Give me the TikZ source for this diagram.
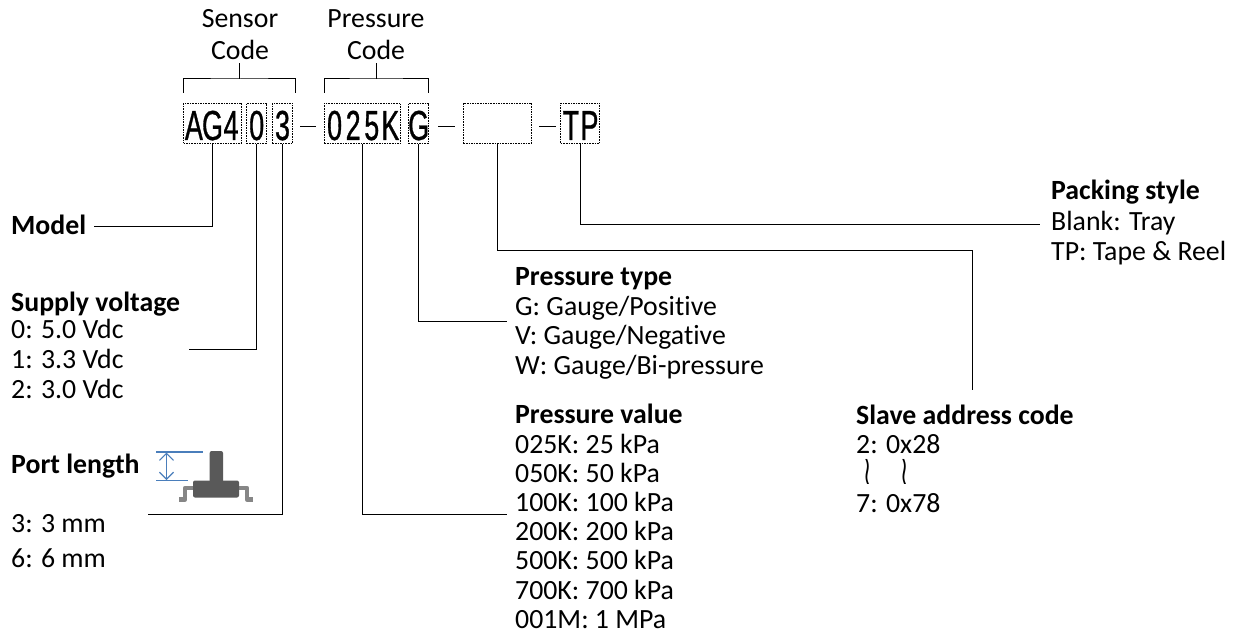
\documentclass[tikz,border=0pt]{standalone}
\usepackage{fontspec}
\setmainfont[Ligatures=NoCommon]{Carlito}
\newfontfamily\codefont[FakeStretch=0.64,FakeBold=0.7]{Liberation Sans}
\newfontfamily\wigfont[FakeStretch=0.55]{DejaVu Sans}
\usetikzlibrary{arrows.meta}
\newcommand{\cc}[1]{\makebox[18.6pt]{#1}}
\definecolor{portblue}{HTML}{4A7EBB}
\tikzset{
 txt/.style={anchor=base west,inner sep=0pt,font=\fontsize{27.8pt}{30pt}\selectfont},
 head/.style={txt,font=\fontsize{27.8pt}{30pt}\selectfont\bfseries},
 lbl/.style={anchor=base,inner sep=0pt,font=\fontsize{27.8pt}{30pt}\selectfont},
 codebox/.style={draw=black,dash pattern=on 1.6pt off 1pt,line width=1pt,minimum height=40pt,inner sep=0pt,font=\codefont\fontsize{42pt}{42pt}\selectfont,text height=33.4pt,text depth=0pt},
 conn/.style={draw=black,line width=1pt},
 wig/.style={anchor=center,inner sep=0pt,font=\wigfont\fontsize{40pt}{40pt}\selectfont},
}
\begin{document}
\begin{tikzpicture}[x=1pt,y=-1pt]
\useasboundingbox (0,0) rectangle (1236,631);
% code boxes
\node[codebox,minimum width=58pt] (ag4) at (212.5,123.3) {\cc{A}\cc{G}\cc{4}};
\node[codebox,minimum width=20pt] (v0) at (256.7,123.3) {\cc{0}};
\node[codebox,minimum width=20.4pt] (v3) at (282.5,123.3) {\cc{3}};
\node[codebox,minimum width=76.4pt] (p025) at (362.5,123.3) {\cc{0}\cc{2}\cc{5}\cc{K}};
\node[codebox,minimum width=20pt] (g) at (418.7,123.3) {\cc{G}};
\node[codebox,minimum width=68.4pt] (blank) at (497.5,123.3) {};
\node[codebox,minimum width=39pt] (tp) at (580.2,123.3) {\cc{T}\cc{P}};
% dashes between code groups
\coordinate (d1a) at (300,126.5); \coordinate (d1b) at (316,126.5);
\coordinate (d2a) at (438,126.5); \coordinate (d2b) at (455,126.5);
\coordinate (d3a) at (539,126.5); \coordinate (d3b) at (556,126.5);
\draw[line width=1.6pt] (d1a)--(d1b) (d2a)--(d2b) (d3a)--(d3b);
% top labels
\node[lbl] (s1) at (240,28) {Sensor};
\node[lbl] (s2) at (240,60) {Code};
\node[lbl] (p1) at (376,28) {Pressure};
\node[lbl] (p2) at (376,60) {Code};
% brackets
\coordinate (b1l) at (183.5,93); \coordinate (b1r) at (295.6,93); \coordinate (b1t) at (239.7,63.5); \coordinate (b1m) at (239.7,79);
\coordinate (b2l) at (324,93); \coordinate (b2r) at (428.7,93); \coordinate (b2t) at (376.3,63.5); \coordinate (b2m) at (376.3,79);
\draw[conn] (b1l) |- (b1m) -| (b1r) (b1t)--(b1m);
\draw[conn] (b2l) |- (b2m) -| (b2r) (b2t)--(b2m);
% texts
\node[head] (model) at (11,234) {Model};
\node[head] (sv) at (11,311) {Supply voltage};
\node[txt] (sv0) at (11,338) {0: 5.0 Vdc};
\node[txt] (sv1) at (11,368) {1: 3.3 Vdc};
\node[txt] (sv2) at (11,398) {2: 3.0 Vdc};
\node[head] (pl) at (11,473) {Port length};
\node[txt] (pl3) at (11,532) {3: 3 mm};
\node[txt] (pl6) at (11,567) {6: 6 mm};
\node[head] (pt) at (515,285) {Pressure type};
\node[txt] at (515,315) {G: Gauge/Positive};
\node[txt] (ptv) at (515,344) {V: Gauge/Negative};
\node[txt] at (515,374) {W: Gauge/Bi-pressure};
\node[head] (pv) at (515,423) {Pressure value};
\node[txt] at (515,453) {025K: 25 kPa};
\node[txt] at (515,482) {050K: 50 kPa};
\node[txt] at (515,511) {100K: 100 kPa};
\node[txt] at (515,540) {200K: 200 kPa};
\node[txt] at (515,569) {500K: 500 kPa};
\node[txt] at (515,599) {700K: 700 kPa};
\node[txt] at (515,628) {001M: 1 MPa};
\node[head] (sa) at (856,424) {Slave address code};
\node[txt] at (856,453) {2: 0x28};
\node[wig] (w1) at (868,472) {≀};
\node[wig] (w2) at (905,472) {≀};
\node[txt] at (856,512) {7: 0x78};
\node[head] (ps) at (1051,200) {Packing style};
\node[txt] at (1051,230) {Blank: Tray};
\node[txt] at (1051,260) {TP: Tape \& Reel};
% connectors
\coordinate (e1) at (94,226.5);
\coordinate (e2) at (189,349);
\coordinate (e3) at (148,514);
\coordinate (e4) at (507,514);
\coordinate (e5) at (507,321);
\coordinate (e6) at (972,390);
\coordinate (e6m) at (972,250);
\coordinate (e7) at (1040,224);
\draw[conn] (ag4.south) |- (e1);
\draw[conn] (v0.south) |- (e2);
\draw[conn] (v3.south) |- (e3);
\draw[conn] (p025.south) |- (e4);
\draw[conn] (g.south) |- (e5);
\draw[conn] (blank.south) |- (e6m) -- (e6);
\draw[conn] (tp.south) |- (e7);
% port icon
\draw[line width=4.5pt,color=gray!95,line join=round] (193,488) -- (185,488) -- (185,499.5) -- (178.5,499.5);
\draw[line width=4.5pt,color=gray!95,line join=round] (239,488) -- (247,488) -- (247,499.5) -- (252.5,499.5);
\fill[color=black!65,rounded corners=2pt] (193,480.5) rectangle (239,497.5);
\fill[color=black!65,rounded corners=2pt] (209.7,451) rectangle (223,484);
\draw[portblue,line width=1.2pt] (156,452) -- (203,452) (156,480.3) -- (188,480.3);
\draw[portblue,line width=1.2pt,{Straight Barb[length=7pt,width=14pt]}-{Straight Barb[length=7pt,width=14pt]}] (166.5,452.5) -- (166.5,480);
\end{tikzpicture}
\end{document}
